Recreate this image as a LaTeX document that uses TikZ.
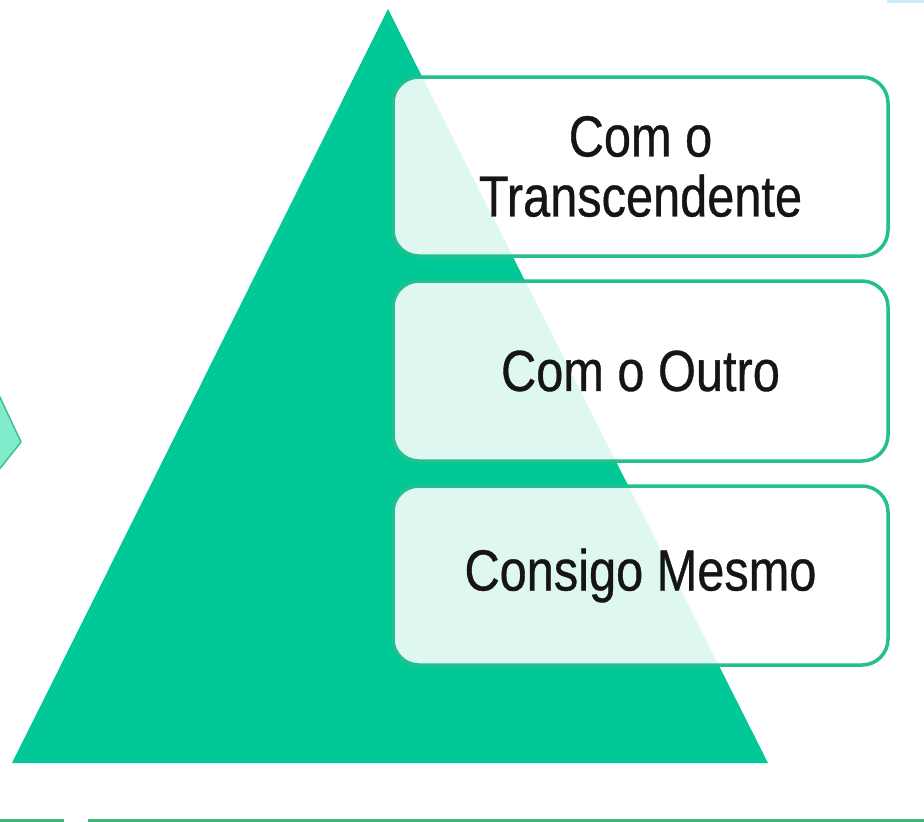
\documentclass[tikz,border=0pt]{standalone}
\usepackage{fontspec}
\setmainfont{Liberation Sans}[FakeStretch=0.84,FakeBold=0.6]
\definecolor{pyr}{HTML}{00C896}
\definecolor{boxline}{HTML}{22C08E}
\definecolor{chev}{HTML}{80ECCB}
\definecolor{chevline}{HTML}{3DBF90}
\definecolor{bottomgreen}{HTML}{3CB878}
\definecolor{topblue}{HTML}{CDE8F8}
\definecolor{txt}{HTML}{151515}
\begin{document}
\begin{tikzpicture}[x=1pt,y=-1pt,
  levelbox/.style={draw=boxline, line width=3.5pt, fill=white, fill opacity=0.87,
    text opacity=1, rounded corners=26pt, minimum width=495pt,
    align=center, text=txt, font=\fontsize{58}{60}\selectfont, inner sep=0pt}]
\useasboundingbox (0,0) rectangle (924,822);
\fill[white] (0,0) rectangle (924,822);
% top-right strip
\fill[topblue] (887,0) rectangle (924,2.5);
% chevron at left edge
\filldraw[fill=chev, draw=chevline, line width=1.5pt, line join=round]
  (-2,393) -- (21,442) -- (-2,471) -- cycle;
% pyramid
\fill[pyr] (388,9) -- (768,763) -- (12,763) -- cycle;
% boxes
\node[levelbox, minimum height=179pt] (b1) at (640.5,166.5) {Com o\\Transcendente};
\node[levelbox, minimum height=180pt] (b2) at (640.5,371) {Com o Outro};
\node[levelbox, minimum height=179pt] (b3) at (640.5,575.5) {Consigo Mesmo};
% bottom line
\draw[draw=bottomgreen, line width=3pt] (0,820.5) -- (64,820.5);
\draw[draw=bottomgreen, line width=3pt] (88,820.5) -- (924,820.5);
\end{tikzpicture}
\end{document}
